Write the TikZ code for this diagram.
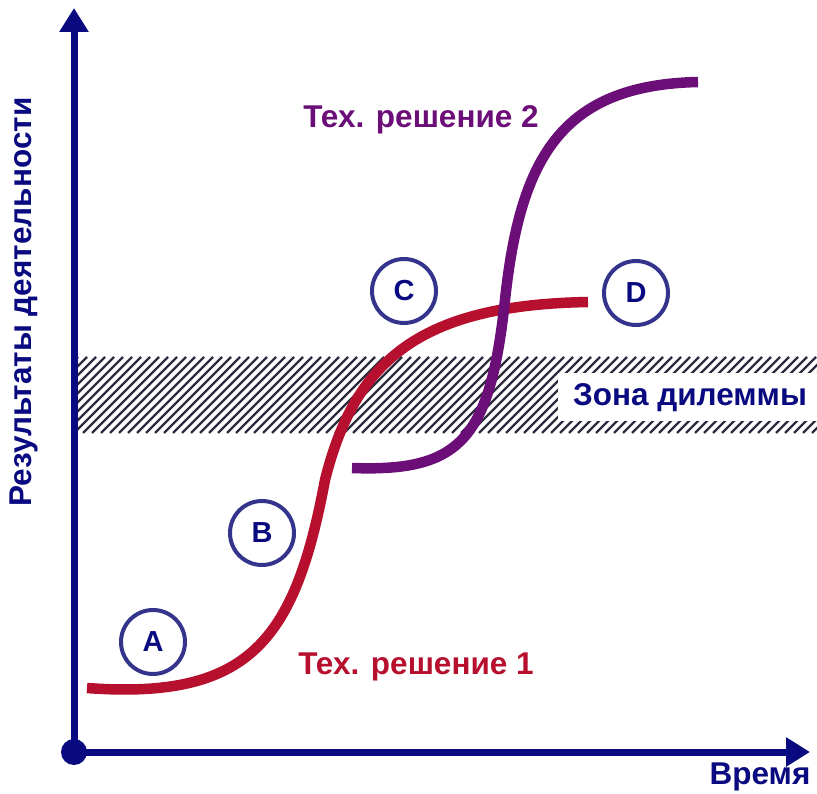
\documentclass[tikz,border=0pt]{standalone}
\usepackage{fontspec}
\setmainfont{Liberation Sans}
\usepackage{xcolor}
\usepackage{tikz}
\usetikzlibrary{arrows.meta,positioning,calc}

\definecolor{navy}{RGB}{10,10,128}
\definecolor{ringcol}{RGB}{52,52,140}
\definecolor{sol1}{RGB}{182,16,46}
\definecolor{sol2}{RGB}{108,14,120}
\definecolor{hatchcol}{RGB}{45,45,62}

\begin{document}
\begin{tikzpicture}[x=1pt,y=-1pt,
  axis/.style={line width=7pt,navy,-{Triangle[length=24pt,width=28pt]}},
  lbl/.style={inner sep=0pt,font=\bfseries\fontsize{31.5}{36}\selectfont},
  point/.style={circle,draw=ringcol,line width=4pt,minimum size=64pt,inner sep=0pt,
    text=navy,font=\bfseries\fontsize{29}{30}\selectfont},
  curve/.style={line width=10.5pt,line cap=butt}]
  \useasboundingbox (0,0) rectangle (817,794);
  % zona di dilemma (tratteggio)
  \begin{scope}
    \clip (78,357) rectangle (817,433);
    \foreach \k in {0,...,92}
      \draw[hatchcol,line width=2.2pt] ({2+9*\k},433) -- ++(76,-76);
  \end{scope}
  \fill[white] (558,373) rectangle (817,421);
  \node[lbl,text=navy] (zone) at (690,398) {Зона дилеммы};
  % assi
  \coordinate (O) at (74,752);
  \coordinate (ytop) at (74,8);
  \coordinate (xend) at (810,752);
  \draw[axis] (O) -- (ytop);
  \draw[axis] (O) -- (xend);
  \fill[navy] (O) circle (13);
  \node[lbl,text=navy,rotate=90] (result) at (24,302) {Результаты деятельности};
  \node[lbl,text=navy] (time) at (760,777) {Время};
  % curve a S
  \draw[curve,sol1] (87,688) .. controls (250,700) and (295,640) .. (325,480)
                            .. controls (355,360) and (420,305) .. (588,302);
  \draw[curve,sol2] (352,468) .. controls (460,472) and (490,440) .. (505,300)
                             .. controls (520,160) and (560,85) .. (698,82);
  \node[lbl,text=sol2] (tech2) at (421,120) {Тех. решение 2};
  \node[lbl,text=sol1] (tech1) at (416,667) {Тех. решение 1};
  % punti
  \foreach \name/\p in {A/{(153,642)},B/{(262,533)},C/{(404,291)},D/{(636,293)}}
    \node[point] (pt\name) at \p {\name};
\end{tikzpicture}
\end{document}
